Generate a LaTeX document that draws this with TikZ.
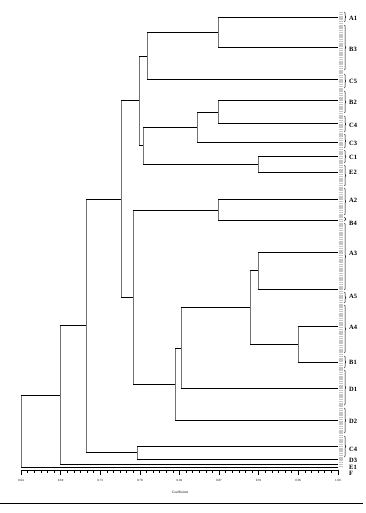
\documentclass[tikz,border=0pt]{standalone}
\usepackage{fontspec}
\setmainfont{Liberation Serif}
\usetikzlibrary{decorations.pathreplacing}

\tikzset{
  hline/.style={line width=0.9pt, black},
  vline/.style={line width=0.45pt, black!55},
  leaflabel/.style={anchor=west, inner sep=0pt, font=\fontsize{6.5}{7}\selectfont\bfseries},
  bracket/.style={decorate, decoration={brace, amplitude=1.2pt}, line width=0.55pt},
  ticklabel/.style={anchor=north, inner sep=0pt, font=\fontsize{3.2}{3.5}\selectfont},
}

\begin{document}
\begin{tikzpicture}[x=1pt, y=-1pt]
\useasboundingbox (0,0) rectangle (365,513);

% grey column at the leaf ends
\draw[gray!45, line width=3.5pt, dash pattern=on 1.2pt off 0.6pt] (341,12) -- (341,466);

% leaves
\foreach \n/\y/\ly/\t in {A1/17/18/A1, B3/47/49/B3, C5/79/81/C5, B2/100/102/B2, C4a/123/125/C4,
  C3/142/143/C3, C1/156/157/C1, E2/172/172/E2, A2/199/200/A2, B4/220/223/B4, A3/252/253/A3,
  A5/289/296/A5, A4/326/327/A4, B1/362/362/B1, D1/388/389/D1, D2/420/421/D2, C4b/446/449/C4,
  D3/459/460/D3, E1/464/467/E1, F/467/473/F}{
  \coordinate (\n) at (338,\y);
  \node[leaflabel] (l\n) at (349,\ly) {\t};
}

% merges
\coordinate (m1) at (218,32);
\coordinate (m2) at (147,56);
\coordinate (m3) at (218,112);
\coordinate (m4) at (197,127);
\coordinate (m5) at (258,164);
\coordinate (m6) at (143,145);
\coordinate (m7) at (139,100);
\coordinate (m8) at (218,210);
\coordinate (m9) at (258,270);
\coordinate (m10) at (298,344);
\coordinate (m11) at (250,307);
\coordinate (m12) at (181,348);
\coordinate (m13) at (175,384);
\coordinate (m14) at (133,297);
\coordinate (m15) at (121,199);
\coordinate (m16) at (137,452);
\coordinate (m17) at (86,325);
\coordinate (m18) at (60,395);
\coordinate (m19) at (21,431);

\foreach \m/\a/\b in {m1/A1/B3, m2/m1/C5, m3/B2/C4a, m4/m3/C3, m5/C1/E2, m6/m4/m5,
  m7/m2/m6, m8/A2/B4, m9/A3/A5, m10/A4/B1, m11/m9/m10, m12/m11/D1, m13/m12/D2,
  m14/m8/m13, m15/m7/m14, m16/C4b/D3, m17/m15/m16, m18/m17/E1, m19/m18/F}{
  \draw[vline] (\m |- \a) -- (\m |- \b);
  \draw[hline] (\m |- \a) -- (\a);
  \draw[hline] (\m |- \b) -- (\b);
}

% brackets
\foreach \t/\b in {12/22, 25/70, 74/88, 91/113, 116/132, 134/148, 150/163, 165/186,
  188/215, 217/221, 223/290, 292/303, 305/353, 356/368, 370/405, 408/433, 436/457}
  \draw[bracket] (344.5,\t) -- (344.5,\b);

% axis
\draw[line width=0.8pt] (21,470) -- (338,470);
\foreach \i in {0,...,48}
  \draw[line width=0.4pt] ({21+\i*6.6},470) -- ({21+\i*6.6},472.5);
\foreach \v [count=\k from 0] in {0.64,0.69,0.73,0.78,0.82,0.87,0.91,0.96,1.00}{
  \draw[line width=0.5pt] ({21+\k*39.6},470) -- ({21+\k*39.6},474.5);
  \node[ticklabel] (t\k) at ({21+\k*39.6},479) {\v};
}
\node[inner sep=0pt, font=\fontsize{3.6}{4}\selectfont] (coef) at (180,492) {Coefficient};

\draw[line width=0.9pt] (0,503) -- (363,503);
\end{tikzpicture}
\end{document}
